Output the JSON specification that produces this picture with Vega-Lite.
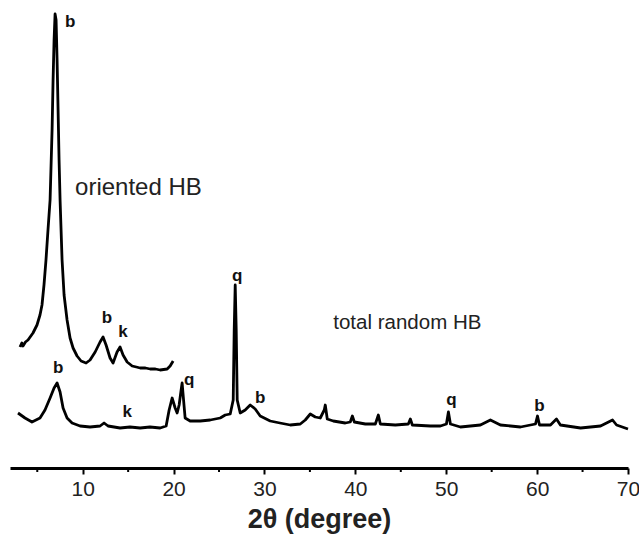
{
  "$schema": "https://vega.github.io/schema/vega-lite/v6.json",
  "width": 618,
  "height": 468,
  "autosize": "none",
  "padding": {"left": 10, "top": 0, "right": 11, "bottom": 67},
  "background": "white",
  "config": {"view": {"stroke": null}},
  "datasets": {
    "curves": [
      {"series": "oriented", "t": 3.10, "i": 121},
      {"series": "oriented", "t": 3.30, "i": 125},
      {"series": "oriented", "t": 3.43, "i": 122},
      {"series": "oriented", "t": 3.70, "i": 126},
      {"series": "oriented", "t": 3.98, "i": 128},
      {"series": "oriented", "t": 4.53, "i": 135},
      {"series": "oriented", "t": 4.97, "i": 143},
      {"series": "oriented", "t": 5.30, "i": 153},
      {"series": "oriented", "t": 5.52, "i": 163},
      {"series": "oriented", "t": 5.74, "i": 183},
      {"series": "oriented", "t": 5.96, "i": 208},
      {"series": "oriented", "t": 6.18, "i": 238},
      {"series": "oriented", "t": 6.41, "i": 268},
      {"series": "oriented", "t": 6.63, "i": 338},
      {"series": "oriented", "t": 6.74, "i": 388},
      {"series": "oriented", "t": 6.85, "i": 428},
      {"series": "oriented", "t": 6.96, "i": 454},
      {"series": "oriented", "t": 7.07, "i": 448},
      {"series": "oriented", "t": 7.18, "i": 408},
      {"series": "oriented", "t": 7.29, "i": 358},
      {"series": "oriented", "t": 7.40, "i": 308},
      {"series": "oriented", "t": 7.51, "i": 268},
      {"series": "oriented", "t": 7.73, "i": 208},
      {"series": "oriented", "t": 7.95, "i": 173},
      {"series": "oriented", "t": 8.28, "i": 148},
      {"series": "oriented", "t": 8.61, "i": 130},
      {"series": "oriented", "t": 8.94, "i": 120},
      {"series": "oriented", "t": 9.38, "i": 112},
      {"series": "oriented", "t": 9.82, "i": 107},
      {"series": "oriented", "t": 10.37, "i": 105},
      {"series": "oriented", "t": 10.81, "i": 108},
      {"series": "oriented", "t": 11.37, "i": 116},
      {"series": "oriented", "t": 11.91, "i": 126},
      {"series": "oriented", "t": 12.24, "i": 131},
      {"series": "oriented", "t": 12.57, "i": 123},
      {"series": "oriented", "t": 13.01, "i": 110},
      {"series": "oriented", "t": 13.34, "i": 105},
      {"series": "oriented", "t": 13.78, "i": 116},
      {"series": "oriented", "t": 14.11, "i": 121},
      {"series": "oriented", "t": 14.44, "i": 113},
      {"series": "oriented", "t": 14.89, "i": 106},
      {"series": "oriented", "t": 15.44, "i": 102},
      {"series": "oriented", "t": 15.90, "i": 101},
      {"series": "oriented", "t": 16.32, "i": 100},
      {"series": "oriented", "t": 16.90, "i": 100},
      {"series": "oriented", "t": 17.42, "i": 99},
      {"series": "oriented", "t": 18.00, "i": 99},
      {"series": "oriented", "t": 18.52, "i": 98},
      {"series": "oriented", "t": 19.29, "i": 99},
      {"series": "oriented", "t": 19.62, "i": 102},
      {"series": "oriented", "t": 19.95, "i": 107},

      {"series": "random", "t": 2.88, "i": 55},
      {"series": "random", "t": 3.65, "i": 50},
      {"series": "random", "t": 4.42, "i": 46},
      {"series": "random", "t": 5.30, "i": 50},
      {"series": "random", "t": 5.85, "i": 58},
      {"series": "random", "t": 6.41, "i": 70},
      {"series": "random", "t": 6.85, "i": 80},
      {"series": "random", "t": 7.18, "i": 85},
      {"series": "random", "t": 7.51, "i": 76},
      {"series": "random", "t": 7.84, "i": 60},
      {"series": "random", "t": 8.28, "i": 50},
      {"series": "random", "t": 8.83, "i": 45},
      {"series": "random", "t": 9.71, "i": 42},
      {"series": "random", "t": 10.81, "i": 41},
      {"series": "random", "t": 11.91, "i": 42},
      {"series": "random", "t": 12.35, "i": 45},
      {"series": "random", "t": 12.79, "i": 42},
      {"series": "random", "t": 14.11, "i": 40},
      {"series": "random", "t": 15.20, "i": 41},
      {"series": "random", "t": 16.32, "i": 40},
      {"series": "random", "t": 17.40, "i": 41},
      {"series": "random", "t": 18.52, "i": 40},
      {"series": "random", "t": 19.18, "i": 42},
      {"series": "random", "t": 19.51, "i": 58},
      {"series": "random", "t": 19.84, "i": 70},
      {"series": "random", "t": 20.17, "i": 60},
      {"series": "random", "t": 20.39, "i": 55},
      {"series": "random", "t": 20.61, "i": 63},
      {"series": "random", "t": 20.83, "i": 78},
      {"series": "random", "t": 20.94, "i": 85},
      {"series": "random", "t": 21.05, "i": 73},
      {"series": "random", "t": 21.27, "i": 50},
      {"series": "random", "t": 21.82, "i": 47},
      {"series": "random", "t": 22.93, "i": 47},
      {"series": "random", "t": 24.03, "i": 48},
      {"series": "random", "t": 25.13, "i": 50},
      {"series": "random", "t": 25.68, "i": 53},
      {"series": "random", "t": 26.23, "i": 54},
      {"series": "random", "t": 26.56, "i": 68},
      {"series": "random", "t": 26.67, "i": 138},
      {"series": "random", "t": 26.78, "i": 183},
      {"series": "random", "t": 26.89, "i": 138},
      {"series": "random", "t": 27.00, "i": 68},
      {"series": "random", "t": 27.33, "i": 55},
      {"series": "random", "t": 27.88, "i": 58},
      {"series": "random", "t": 28.43, "i": 63},
      {"series": "random", "t": 28.98, "i": 59},
      {"series": "random", "t": 29.53, "i": 52},
      {"series": "random", "t": 30.63, "i": 47},
      {"series": "random", "t": 31.70, "i": 45},
      {"series": "random", "t": 32.84, "i": 43},
      {"series": "random", "t": 33.94, "i": 44},
      {"series": "random", "t": 34.49, "i": 48},
      {"series": "random", "t": 35.04, "i": 54},
      {"series": "random", "t": 35.59, "i": 51},
      {"series": "random", "t": 36.14, "i": 50},
      {"series": "random", "t": 36.58, "i": 58},
      {"series": "random", "t": 36.69, "i": 63},
      {"series": "random", "t": 36.91, "i": 49},
      {"series": "random", "t": 37.57, "i": 47},
      {"series": "random", "t": 38.89, "i": 45},
      {"series": "random", "t": 39.44, "i": 46},
      {"series": "random", "t": 39.67, "i": 52},
      {"series": "random", "t": 39.89, "i": 46},
      {"series": "random", "t": 41.10, "i": 44},
      {"series": "random", "t": 42.20, "i": 44},
      {"series": "random", "t": 42.53, "i": 53},
      {"series": "random", "t": 42.75, "i": 44},
      {"series": "random", "t": 44.40, "i": 43},
      {"series": "random", "t": 45.83, "i": 44},
      {"series": "random", "t": 46.05, "i": 49},
      {"series": "random", "t": 46.27, "i": 43},
      {"series": "random", "t": 48.26, "i": 42},
      {"series": "random", "t": 49.36, "i": 42},
      {"series": "random", "t": 50.02, "i": 44},
      {"series": "random", "t": 50.24, "i": 56},
      {"series": "random", "t": 50.46, "i": 44},
      {"series": "random", "t": 51.56, "i": 41},
      {"series": "random", "t": 53.76, "i": 43},
      {"series": "random", "t": 54.86, "i": 48},
      {"series": "random", "t": 55.96, "i": 43},
      {"series": "random", "t": 58.17, "i": 41},
      {"series": "random", "t": 59.82, "i": 44},
      {"series": "random", "t": 60.04, "i": 52},
      {"series": "random", "t": 60.26, "i": 43},
      {"series": "random", "t": 61.47, "i": 43},
      {"series": "random", "t": 62.13, "i": 49},
      {"series": "random", "t": 62.56, "i": 43},
      {"series": "random", "t": 64.78, "i": 40},
      {"series": "random", "t": 66.98, "i": 42},
      {"series": "random", "t": 68.30, "i": 48},
      {"series": "random", "t": 68.74, "i": 43},
      {"series": "random", "t": 70.00, "i": 39}
    ],
    "peaks": [
      {"label": "b", "t": 8.61, "i": 446},
      {"label": "b", "t": 12.68, "i": 150},
      {"label": "k", "t": 14.44, "i": 136},
      {"label": "b", "t": 7.29, "i": 100},
      {"label": "k", "t": 14.89, "i": 56},
      {"label": "q", "t": 21.71, "i": 88},
      {"label": "q", "t": 27.0, "i": 192},
      {"label": "b", "t": 29.53, "i": 70},
      {"label": "q", "t": 50.57, "i": 68},
      {"label": "b", "t": 60.26, "i": 62}
    ],
    "minor": [
      {"t": 5}, {"t": 15}, {"t": 25}, {"t": 35}, {"t": 45}, {"t": 55}, {"t": 65}
    ]
  },
  "layer": [
    {
      "data": {"name": "curves"},
      "mark": {"type": "line", "color": "black", "strokeWidth": 2.8, "strokeJoin": "round"},
      "encoding": {
        "x": {
          "field": "t", "type": "quantitative",
          "scale": {"domain": [2, 70], "nice": false, "zero": false},
          "axis": {
            "values": [10, 20, 30, 40, 50, 60, 70],
            "title": "2θ (degree)",
            "titleFont": "Liberation Sans", "titleFontSize": 27, "titleFontWeight": "bold", "titleColor": "#222",
            "titlePadding": 7,
            "labelFont": "Liberation Sans", "labelFontSize": 21, "labelColor": "#222", "labelPadding": 4,
            "labelFlush": false,
            "domainColor": "black", "domainWidth": 3,
            "tickColor": "black", "tickWidth": 2, "tickSize": 6,
            "grid": false
          }
        },
        "y": {
          "field": "i", "type": "quantitative",
          "scale": {"domain": [0, 468], "nice": false},
          "axis": null
        },
        "detail": {"field": "series"}
      }
    },
    {
      "data": {"name": "minor"},
      "mark": {"type": "rule", "color": "black", "strokeWidth": 2, "clip": false},
      "encoding": {
        "x": {"field": "t", "type": "quantitative"},
        "y": {"datum": 0, "type": "quantitative"},
        "y2": {"datum": -4}
      }
    },
    {
      "data": {"name": "peaks"},
      "mark": {"type": "text", "font": "Liberation Sans", "fontSize": 17, "fontWeight": "bold", "color": "#111", "align": "center", "baseline": "middle"},
      "encoding": {
        "x": {"field": "t", "type": "quantitative"},
        "y": {"field": "i", "type": "quantitative"},
        "text": {"field": "label"}
      }
    },
    {
      "data": {"values": [{"label": "oriented HB", "t": 9.16, "i": 280}]},
      "mark": {"type": "text", "font": "Liberation Sans", "fontSize": 24, "color": "#222", "align": "left", "baseline": "middle"},
      "encoding": {
        "x": {"field": "t", "type": "quantitative"},
        "y": {"field": "i", "type": "quantitative"},
        "text": {"field": "label"}
      }
    },
    {
      "data": {"values": [{"label": "total random HB", "t": 37.57, "i": 145}]},
      "mark": {"type": "text", "font": "Liberation Sans", "fontSize": 20.5, "color": "#222", "align": "left", "baseline": "middle"},
      "encoding": {
        "x": {"field": "t", "type": "quantitative"},
        "y": {"field": "i", "type": "quantitative"},
        "text": {"field": "label"}
      }
    }
  ]
}
